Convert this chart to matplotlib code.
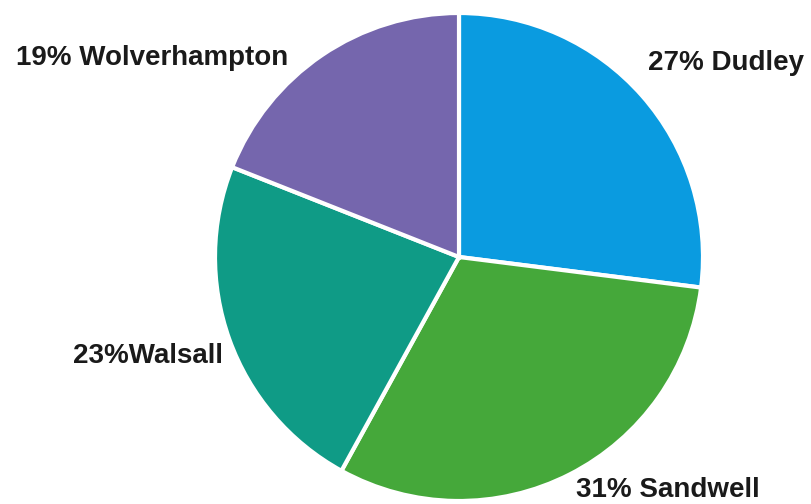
import matplotlib.pyplot as plt

boroughs = ["Dudley", "Sandwell", "Walsall", "Wolverhampton"]
shares = [27, 31, 23, 19]
colours = ["#0a9be0", "#45a83a", "#0f9b86", "#7566ad"]

# label anchor points (pixels, origin bottom-left) and alignment
label_pos = [(648, 441, "left"), (576, 14, "left"), (223, 148, "right"), (288, 446, "right")]
label_sep = [" ", " ", "", " "]

fig = plt.figure(figsize=(8.11, 5.04), dpi=100)
ax = fig.add_axes([0, 0, 1, 1])

ax.pie(shares, colors=colours, startangle=90, counterclock=False,
       center=(459, 247), radius=244, frame=True,
       wedgeprops=dict(edgecolor="white", linewidth=3))
ax.set_xlim(0, 811)
ax.set_ylim(0, 504)
ax.set_aspect("equal")
ax.axis("off")

for name, val, sep, (x, y, ha) in zip(boroughs, shares, label_sep, label_pos):
    ax.text(x, y, f"{val}%{sep}{name}", ha=ha, va="center",
            fontsize=20, fontweight="bold", family="Liberation Sans",
            color="#1a1a1a")

fig.savefig("out.png", dpi=100, facecolor="white")
